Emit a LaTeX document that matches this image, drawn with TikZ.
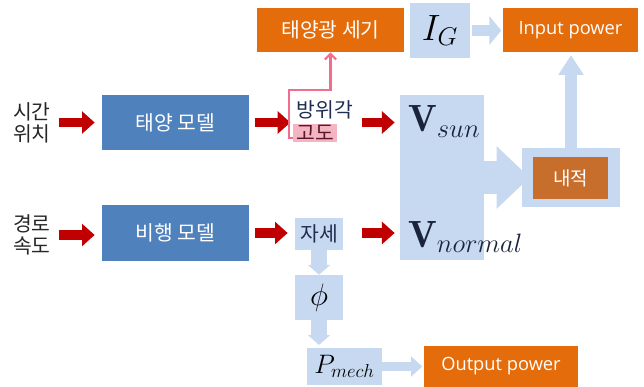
\RequirePackage{fix-cm}
\documentclass[tikz,border=0pt]{standalone}
\usepackage{fontspec}
\usetikzlibrary{arrows.meta}
\newfontfamily\kr{Noto Sans CJK KR}
\newfontfamily\en{Open Sans}
\definecolor{modblue}{RGB}{79,129,189}
\definecolor{outorange}{RGB}{228,108,10}
\definecolor{dotorange}{RGB}{200,110,45}
\definecolor{pale}{RGB}{198,217,240}
\definecolor{arrred}{RGB}{192,0,0}
\definecolor{pinkln}{RGB}{240,110,140}
\definecolor{pinkfill}{RGB}{245,180,195}
\definecolor{navy}{RGB}{30,45,80}
\definecolor{maroon}{RGB}{90,25,40}
\definecolor{vnavy}{RGB}{25,35,60}

\begin{document}
\begin{tikzpicture}[x=0.025cm, y=-0.025cm,
    model/.style={rectangle, fill=modblue, text=white, minimum width=3.675cm, minimum height=1.375cm, inner sep=0pt, font=\kr\fontsize{14.5}{16}\selectfont},
    result/.style={rectangle, fill=outorange, text=white, minimum height=1.1cm, inner sep=0pt, font=\en\fontsize{13}{15}\selectfont},
    var/.style={rectangle, fill=pale, inner sep=0pt},
    txt/.style={align=center, inner sep=0pt, font=\kr\fontsize{14.5}{15.8}\selectfont},
    redarr/.style={draw=arrred, line width=7pt, -{Triangle[width=15.5pt,length=9pt]}},
    palearr/.style n args={3}{draw=pale, line width=#1, -{Triangle[width=#2,length=#3]}},
    pinkpath/.style={draw=pinkln, line width=1.5pt, -{Straight Barb[length=4pt,width=8pt]}}
]
\useasboundingbox (0,0) rectangle (644,387);

% inputs and models
\node[txt, text=black!85] (time) at (32,123) {시간\\위치};
\node[txt, text=black!85] (route) at (32,235) {경로\\속도};
\node[model] (sunmod) at (175.5,122.5) {태양 모델};
\node[model, minimum height=1.4cm] (flymod) at (175.5,233) {비행 모델};

% sun model outputs
\node[txt, text=navy] (azim) at (325,110) {방위각};
\node[txt, fill=pinkfill, text=maroon, minimum width=1.075cm, minimum height=0.425cm] (alt) at (315,133) {고도};
\node[result, minimum width=3.675cm, font=\kr\fontsize{14.5}{16}\selectfont] (sunint) at (330.5,30) {태양광 세기};
\node[var, minimum width=1.5cm, minimum height=1.375cm] (ig) at (440,30.5) {\fontsize{26}{28}\selectfont$I_G$};
\node[result, minimum width=3.375cm] (inp) at (570.5,30) {Input power};

% flight model outputs
\node[var, minimum width=1.2cm, minimum height=0.8cm, text=navy, font=\kr\fontsize{14.5}{16}\selectfont] (att) at (319,234) {자세};
\node[var, minimum width=1.2cm, minimum height=1.125cm] (phi) at (319,297.5) {\fontsize{22}{24}\selectfont$\phi$};
\node[var, minimum width=1.875cm, minimum height=0.925cm] (pmech) at (344.5,366.5) {\fontsize{19}{21}\selectfont$P_{mech}$};
\node[result, minimum width=3.85cm, minimum height=1.025cm] (outp) at (501,366.5) {Output power};

% vectors and dot product
\node[var, minimum width=2.1cm, minimum height=4.125cm] (vblk) at (442,177.5) {};
\node[anchor=base west, inner sep=0pt, text=vnavy] (vsun) at (408,132) {\fontsize{27}{30}\selectfont$\mathbf{V}_{sun}$};
\node[anchor=base west, inner sep=0pt, text=vnavy] (vnorm) at (408,247) {\fontsize{27}{30}\selectfont$\mathbf{V}_{normal}$};
\node[var, minimum width=2.45cm, minimum height=1.475cm] (dotc) at (571,177.5) {};
\node[rectangle, fill=dotorange, text=white, minimum width=1.875cm, minimum height=1.05cm, inner sep=0pt, font=\kr\fontsize{13.5}{15}\selectfont] (dot) at (570.5,178) {내적};

% red arrows
\draw[redarr, shorten <=6pt, shorten >=5pt] (time.east |- sunmod.west) -- (sunmod.west);
\draw[redarr, shorten <=4.3pt, shorten >=2pt] (sunmod.east) -- (sunmod.east -| alt.west);
\draw[redarr, shorten <=6pt, shorten >=3.6pt] (azim.east |- sunmod.east) -- (sunmod.east -| vblk.west);
\draw[redarr, shorten <=6pt, shorten >=5pt] (route.east) -- (route.east -| flymod.west);
\draw[redarr, shorten <=4.3pt, shorten >=5pt] (flymod.east) -- (flymod.east -| att.west);
\draw[redarr, shorten <=13.5pt, shorten >=3.6pt] (att.east |- flymod.east) -- (flymod.east -| vblk.west);

% pale arrows
\draw[palearr={8.5pt}{20pt}{8.5pt}, shorten <=1pt, shorten >=1pt] (ig.east) -- (ig.east -| inp.west);
\draw[palearr={23.5pt}{43pt}{23.5pt}, shorten >=-5.7pt] (vblk.east |- dotc.west) -- (dotc.west);
\draw[palearr={8.5pt}{17pt}{14pt}, shorten >=2pt] (dotc.north) -- (dotc.north |- inp.south);
\draw[palearr={10.7pt}{15.6pt}{7pt}] (att) -- (phi);
\draw[palearr={10.7pt}{15.6pt}{7pt}, shorten >=2pt] (phi.south) -- (phi.south |- pmech.north);
\draw[palearr={7pt}{14pt}{8pt}, shorten >=1pt] (pmech.east) -- (pmech.east -| outp.west);

% altitude to intensity
\draw[pinkpath] ([yshift=3pt]alt.south west) -- ++(-4,0) -- ++(0,-48) -| (sunint.south);
\end{tikzpicture}
\end{document}
